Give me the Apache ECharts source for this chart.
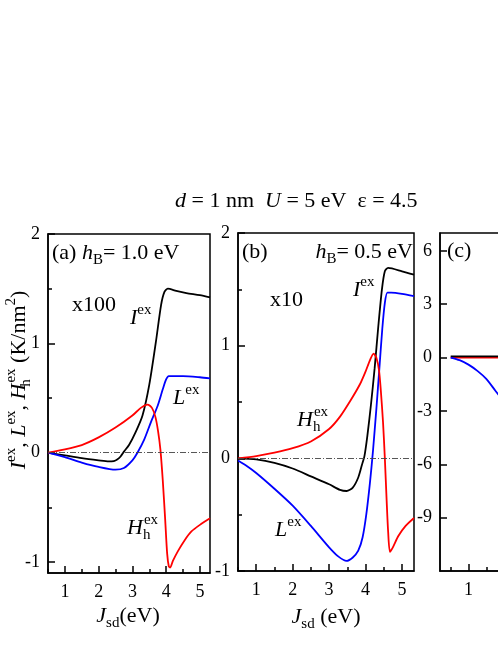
<!DOCTYPE html>
<html>
<head>
<meta charset="utf-8">
<script src="https://cdn.jsdelivr.net/npm/echarts@6/dist/echarts.min.js"></script>
<style>
html, body { margin: 0; padding: 0; background: #fff; overflow: hidden; }
#chart { width: 700px; height: 645px; }
</style>
</head>
<body>
<div id="chart"></div>
<script>
// tick labels
const xTicks = [1, 2, 3, 4, 5]
const xHalf = [0.5, 1.5, 2.5, 3.5, 4.5]
const yTicksAB = [-1, 0, 1, 2]
const yHalfAB = [-0.5, 0.5, 1.5]
const yTicksC = [-9, -6, -3, 0, 3, 6]

// panel (a) hB = 1.0 eV, x100
const aI = [[0.5, 0], [0.8, -0.015], [1.0, -0.025], [1.5, -0.05], [2.0, -0.07], [2.3, -0.08], [2.45, -0.076], [2.55, -0.062], [2.65, -0.035], [2.75, 0.01], [2.9, 0.07], [3.1, 0.19], [3.3, 0.34], [3.5, 0.62], [3.7, 1.02], [3.85, 1.35], [3.95, 1.47], [4.05, 1.5], [4.3, 1.48], [4.6, 1.46], [5.0, 1.44], [5.3, 1.42]]
const aL = [[0.5, 0], [1.0, -0.04], [1.5, -0.09], [2.0, -0.13], [2.5, -0.155], [2.75, -0.14], [3.0, -0.07], [3.15, 0], [3.35, 0.12], [3.55, 0.28], [3.75, 0.43], [3.9, 0.58], [4.0, 0.67], [4.08, 0.7], [4.5, 0.7], [5.0, 0.69], [5.3, 0.68]]
const aH = [[0.5, 0], [1.0, 0.03], [1.5, 0.07], [2.0, 0.14], [2.5, 0.23], [3.0, 0.34], [3.25, 0.41], [3.45, 0.44], [3.58, 0.41], [3.68, 0.33], [3.76, 0.2], [3.83, 0.03], [3.9, -0.25], [3.97, -0.6], [4.03, -0.92], [4.08, -1.04], [4.12, -1.05], [4.2, -0.99], [4.35, -0.9], [4.55, -0.8], [4.75, -0.72], [5.0, -0.66], [5.3, -0.6]]

// panel (b) hB = 0.5 eV, x10
const bI = [[0.5, 0], [1.0, -0.01], [1.5, -0.04], [2.0, -0.09], [2.5, -0.16], [3.0, -0.23], [3.3, -0.28], [3.48, -0.29], [3.65, -0.26], [3.8, -0.17], [3.9, -0.06], [3.97, 0.02], [4.05, 0.2], [4.15, 0.48], [4.25, 0.8], [4.35, 1.17], [4.45, 1.5], [4.53, 1.66], [4.62, 1.69], [5.0, 1.66], [5.33, 1.63]]
const bL = [[0.5, -0.02], [0.75, -0.07], [1.0, -0.13], [1.5, -0.27], [2.0, -0.42], [2.5, -0.6], [3.0, -0.79], [3.25, -0.87], [3.48, -0.91], [3.65, -0.88], [3.8, -0.82], [3.92, -0.7], [4.02, -0.5], [4.12, -0.22], [4.2, 0.05], [4.3, 0.45], [4.38, 0.8], [4.46, 1.15], [4.53, 1.38], [4.6, 1.47], [4.7, 1.47], [5.0, 1.46], [5.33, 1.44]]
const bH = [[0.5, 0], [1.0, 0.02], [1.5, 0.05], [2.0, 0.09], [2.5, 0.15], [3.0, 0.26], [3.3, 0.37], [3.6, 0.52], [3.85, 0.66], [4.0, 0.77], [4.12, 0.87], [4.22, 0.93], [4.3, 0.89], [4.37, 0.78], [4.42, 0.6], [4.48, 0.32], [4.53, 0], [4.58, -0.38], [4.62, -0.65], [4.67, -0.83], [4.75, -0.79], [4.9, -0.69], [5.1, -0.6], [5.33, -0.53]]

// panel (c)
const cI = [[0.5, 0.06], [1.0, 0.06], [1.5, 0.06], [2.0, 0.06]]
const cL = [[0.5, 0], [0.75, -0.15], [1.0, -0.4], [1.25, -0.75], [1.5, -1.2], [1.75, -1.85], [2.0, -2.5]]
const cH = [[0.5, 0], [1.0, 0], [1.5, 0], [2.0, 0]]

const FONT = 'Liberation Serif'
const rich = {
  i: { fontStyle: 'italic', fontSize: 22, fontFamily: FONT, lineHeight: 30 },
  n: { fontSize: 22, fontFamily: FONT, lineHeight: 30 },
  sup: { fontSize: 15, fontFamily: FONT, verticalAlign: 'top', lineHeight: 16 },
  sub: { fontSize: 15, fontFamily: FONT, verticalAlign: 'bottom', lineHeight: 16 },
  subz: { fontSize: 15, fontFamily: FONT, verticalAlign: 'bottom', lineHeight: 16, width: 1 }
}

const chart = echarts.init(document.getElementById('chart'))

function xMajor(grid, min, max) {
  return {
    type: 'value', gridIndex: grid, min: min, max: max, position: 'bottom',
    axisLine: { onZero: false, lineStyle: { color: '#000', width: 1.5 } },
    axisTick: { inside: true, length: 7, customValues: xTicks, lineStyle: { color: '#000', width: 1.5 } },
    axisLabel: { customValues: xTicks, margin: 10, color: '#000', fontSize: 18, fontFamily: FONT },
    splitLine: { show: false }
  }
}
function xMinor(grid, min, max) {
  return {
    type: 'value', gridIndex: grid, min: min, max: max, position: 'bottom',
    axisLine: { show: false, onZero: false },
    axisTick: { inside: true, length: 4, customValues: xHalf, lineStyle: { color: '#000', width: 1.5 } },
    axisLabel: { show: false },
    splitLine: { show: false }
  }
}
function yMajor(grid, min, max, ticks) {
  return {
    type: 'value', gridIndex: grid, min: min, max: max, position: 'left',
    axisLine: { show: true, onZero: false, lineStyle: { color: '#000', width: 1.5 } },
    axisTick: { show: true, inside: true, length: 7, customValues: ticks, lineStyle: { color: '#000', width: 1.5 } },
    axisLabel: { customValues: ticks, margin: 8, color: '#000', fontSize: 18, fontFamily: FONT },
    splitLine: { show: false }
  }
}
function yMinor(grid, min, max, ticks) {
  return {
    type: 'value', gridIndex: grid, min: min, max: max, position: 'left',
    axisLine: { show: false, onZero: false },
    axisTick: { show: ticks.length > 0, inside: true, length: 4, customValues: ticks, lineStyle: { color: '#000', width: 1.5 } },
    axisLabel: { show: false },
    splitLine: { show: false }
  }
}
function line(data, color, axis, zero) {
  let s = {
    type: 'line', xAxisIndex: axis, yAxisIndex: axis, data: data,
    showSymbol: false, symbol: 'none', smooth: 0.25,
    lineStyle: { color: color, width: 1.8 }, itemStyle: { color: color }, silent: true
  }
  if (zero) {
    s.markLine = {
      silent: true, symbol: 'none', label: { show: false },
      lineStyle: { color: '#444', width: 0.9, type: [6, 2, 1, 2] },
      data: [{ yAxis: 0 }]
    }
  }
  return s
}
function txt(x, y, text, align) {
  return {
    type: 'text', x: x, y: y, silent: true,
    style: { text: text, fill: '#000', fontSize: 22, fontFamily: FONT, lineHeight: 30, align: align || 'left', verticalAlign: 'middle', rich: rich }
  }
}

const gridStyle = { show: true, borderColor: '#000', borderWidth: 1.5, backgroundColor: 'transparent', outerBoundsMode: 'none' }

let options = {
  animation: false,
  grid: [
    Object.assign({ left: 48, top: 234, width: 162, height: 339 }, gridStyle),
    Object.assign({ left: 238, top: 233, width: 176, height: 338 }, gridStyle),
    Object.assign({ left: 440, top: 233, width: 178, height: 338 }, gridStyle)
  ],
  xAxis: [
    xMajor(0, 0.5, 5.3), xMinor(0, 0.5, 5.3),
    xMajor(1, 0.5, 5.33), xMinor(1, 0.5, 5.33),
    xMajor(2, 0.2, 5.2), xMinor(2, 0.2, 5.2)
  ],
  yAxis: [
    yMajor(0, -1.1, 2, yTicksAB), yMinor(0, -1.1, 2, yHalfAB),
    yMajor(1, -1, 2, yTicksAB), yMinor(1, -1, 2, yHalfAB),
    yMajor(2, -12, 7, yTicksC), yMinor(2, -12, 7, [])
  ],
  series: [
    line(aI, '#000', 0, true), line(aL, '#0000ff', 0), line(aH, '#ff0000', 0),
    line(bI, '#000', 2, true), line(bL, '#0000ff', 2), line(bH, '#ff0000', 2),
    line(cH, '#ff0000', 4), line(cI, '#000', 4), line(cL, '#0000ff', 4)
  ],
  graphic: [
    txt(175, 201, '{i|d}{n| = 1 nm  }{i|U}{n| = 5 eV  ε = 4.5}'),
    txt(52, 253, '{n|(a) }{i|h}{sub|B}{n|= 1.0 eV}'),
    txt(72, 305, '{n|x100}'),
    txt(130, 318, '{i|I}{sup|ex}'),
    txt(173, 398, '{i|L}{sup|ex}'),
    txt(127, 528, '{i|H}{subz|h}{sup|ex}'),
    txt(128, 616, '{i|J}{sub|sd}{n|(eV)}', 'center'),
    txt(242, 252, '{n|(b)}'),
    txt(413, 252, '{i|h}{sub|B}{n|= 0.5 eV}', 'right'),
    txt(270, 300, '{n|x10}'),
    txt(353, 290, '{i|I}{sup|ex}'),
    txt(297, 420, '{i|H}{subz|h}{sup|ex}'),
    txt(275, 530, '{i|L}{sup|ex}'),
    txt(326, 617, '{i|J}{sub|sd}{n| (eV)}', 'center'),
    txt(447, 251, '{n|(c)}'),
    {
      type: 'text', x: 19, y: 380, rotation: Math.PI / 2, silent: true,
      style: {
        text: '{i|I}{sup|ex}{n|, }{i|L}{sup|ex}{n|, }{i|H}{subz|h}{sup|ex}{n| (K/nm}{sup|2}{n|)}',
        fill: '#000', fontSize: 22, fontFamily: FONT, lineHeight: 30, align: 'center', verticalAlign: 'middle', rich: rich
      }
    }
  ]
}
chart.setOption(options)
</script>
</body>
</html>
